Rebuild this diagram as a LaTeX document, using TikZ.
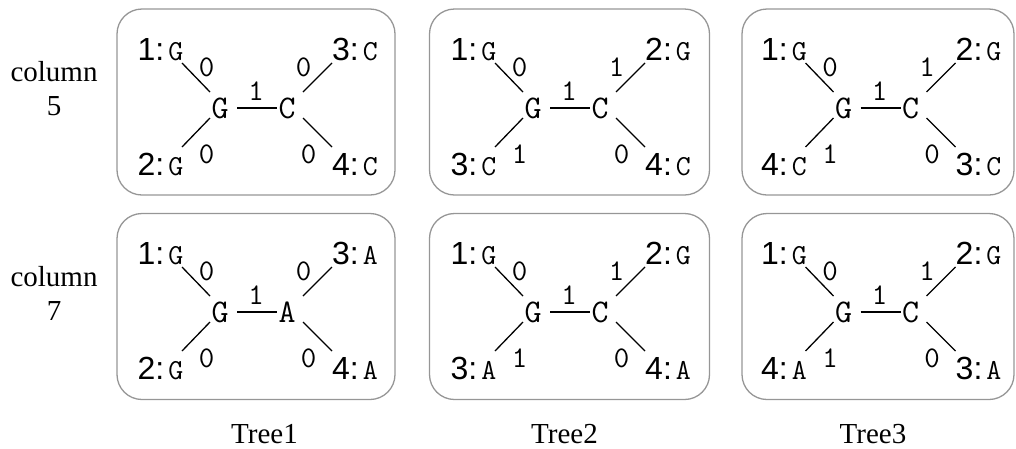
\documentclass[tikz,border=0pt]{standalone}
\usepackage{fontspec}
\setmainfont{Liberation Serif}
\setsansfont{Liberation Sans}
\usepackage{tikz}
\usetikzlibrary{positioning}
\definecolor{boxgray}{RGB}{150,150,150}

% leaf label: sequence number in sans, base in typewriter
\newcommand{\leaflbl}[2]{{\fontsize{32}{32}\sffamily #1:}\kern4pt{\fontsize{29}{29}\ttfamily #2}}

\begin{document}
\begin{tikzpicture}[
  x=1pt, y=-1pt,
  panel/.style={draw=boxgray, line width=1.3pt, rounded corners=25pt,
                minimum height=186pt, inner sep=0pt},
  inode/.style={font=\fontsize{33}{33}\ttfamily, inner sep=0pt},
  wt/.style={font=\fontsize{30}{30}\ttfamily, inner sep=0pt},
  leaf/.style={inner sep=0pt},
  lbl/.style={font=\fontsize{29}{34}\selectfont, align=center},
  edge/.style={line width=1.3pt}
]
\useasboundingbox (0,0) rectangle (1016,448);

%% Panels
\foreach \bx/\bw/\t in {256/278/1, 569.5/280/2, 878/272/3} {
  \node[panel, minimum width=\bw pt] (top\t) at (\bx,102) {};
  \node[panel, minimum width=\bw pt] (bot\t) at (\bx,306.5) {};
}

%% Row and column labels
\node[lbl] (col5) at (54,89) {column\\5};
\node[lbl] (col7) at (54,293) {column\\7};
\node[lbl, anchor=base] (tree1) at (264.5,443) {Tree1};
\node[lbl, anchor=base] (tree2) at (564.5,443) {Tree2};
\node[lbl, anchor=base] (tree3) at (873,443) {Tree3};

%% Unrooted trees: centre, name, right inner base, leaves, weights
\foreach \cx/\cy/\nm/\ir/\bln/\blc/\trn/\trc/\brn/\brc/\wb/\wt/\wr in {
    256.5/105/r5t1/C/2/G/3/C/4/C/0/0/0,
    569.5/105/r5t2/C/3/C/2/G/4/C/1/1/0,
    880/105/r5t3/C/4/C/2/G/3/C/1/1/0,
    256.5/309/r7t1/A/2/G/3/A/4/A/0/0/0,
    569.5/309/r7t2/C/3/A/2/G/4/A/1/1/0,
    880/309/r7t3/C/4/A/2/G/3/A/1/1/0} {
  \begin{scope}[shift={(\cx,\cy)}]
    % inner nodes
    \node[inode] (\nm-a) at (-36.5,3) {G};
    \node[inode] (\nm-b) at (30.5,3) {\ir};
    % leaves
    \node[leaf, anchor=base east] (\nm-tl) at (-73,-45) {\leaflbl{1}{G}};
    \node[leaf, anchor=base east] (\nm-bl) at (-73,70) {\leaflbl{\bln}{\blc}};
    \node[leaf, anchor=base west] (\nm-tr) at (75.5,-45) {\leaflbl{\trn}{\trc}};
    \node[leaf, anchor=base west] (\nm-br) at (75.5,70) {\leaflbl{\brn}{\brc}};
    % branches
    \draw[edge] ([xshift=17pt]\nm-a.center) -- ([xshift=-10pt]\nm-b.center);
    \draw[edge] ([xshift=-1.5pt,yshift=-3pt]\nm-tl.base east) -- ([xshift=-10pt,yshift=16pt]\nm-a.center);
    \draw[edge] ([xshift=-1.5pt,yshift=28pt]\nm-bl.base east) -- ([xshift=-10pt,yshift=-10pt]\nm-a.center);
    \draw[edge] ([yshift=-3pt]\nm-tr.base west) -- ([xshift=16pt,yshift=16pt]\nm-b.center);
    \draw[edge] ([yshift=28pt]\nm-br.base west) -- ([xshift=16pt,yshift=-10pt]\nm-b.center);
    % branch weights
    \node[wt] (\nm-w0) at (-0.5,-14) {1};
    \node[wt] (\nm-w1) at (-50,-37.5) {0};
    \node[wt] (\nm-w2) at (-50,49) {\wb};
    \node[wt] (\nm-w3) at (47,-37.5) {\wt};
    \node[wt] (\nm-w4) at (52,49) {\wr};
  \end{scope}
}
\end{tikzpicture}
\end{document}
